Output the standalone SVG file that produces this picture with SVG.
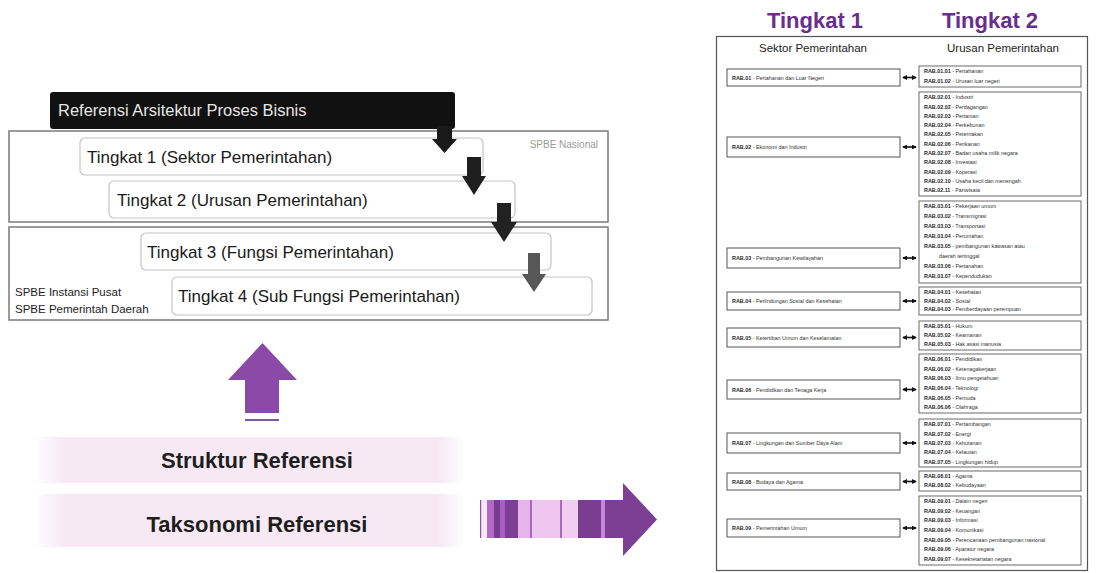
<svg xmlns="http://www.w3.org/2000/svg" width="1097" height="573" viewBox="0 0 1097 573">
  <defs>
    <style>
      text { font-family: "Liberation Sans", Arial, sans-serif; }
      .outer { fill: #ffffff; stroke: #7a7a7a; stroke-width: 1.5; }
      .lvl { fill: #ffffff; stroke: #c4c4c4; stroke-width: 1.2; }
      .lvl-t { font-size: 17px; fill: #1a1a1a; }
      .spbe { font-size: 11.5px; fill: #222; }
      .band-t { font-size: 22px; font-weight: bold; fill: #1e1e1e; text-anchor: middle; }
      .hdr { font-size: 22px; font-weight: bold; fill: #6a2c8e; text-anchor: middle; }
      .sub { font-size: 11.5px; fill: #222; text-anchor: middle; }
      .sbox { fill: #ffffff; stroke: #555; stroke-width: 1; }
      .ubox { fill: #ffffff; stroke: #6a6a6a; stroke-width: 1; }
      .it { font-size: 5.4px; fill: #333; }
      .it tspan.c { font-weight: bold; fill: #2a2a2a; }
      .link { stroke: #111; stroke-width: 1.6; marker-start: url(#dh); marker-end: url(#dh); }
    </style>
    <marker id="dh" viewBox="0 0 6 6" refX="5" refY="3" markerWidth="3" markerHeight="3" orient="auto-start-reverse">
      <path d="M0,0 L6,3 L0,6 z" fill="#111"/>
    </marker>
    <linearGradient id="bandFill" x1="0" y1="0" x2="1" y2="0">
      <stop offset="0" stop-color="#f6e9f4" stop-opacity="0.2"/>
      <stop offset="0.06" stop-color="#f6e9f4"/>
      <stop offset="0.94" stop-color="#f6e9f4"/>
      <stop offset="1" stop-color="#f6e9f4" stop-opacity="0.2"/>
    </linearGradient>
  </defs>

  <rect width="1097" height="573" fill="#ffffff"/>

  <!-- Level stack -->
  <g id="spbe-nasional">
    <rect class="outer" x="9" y="131" width="599" height="91"/>
    <text x="598" y="148" font-size="10" fill="#9a9a9a" text-anchor="end">SPBE Nasional</text>
  </g>
  <g id="spbe-daerah">
    <rect class="outer" x="9" y="227" width="599" height="93"/>
    <text class="spbe" x="15" y="296">SPBE Instansi Pusat</text>
    <text class="spbe" x="15" y="313">SPBE Pemerintah Daerah</text>
  </g>
  <g id="referensi">
    <rect x="50" y="92" width="405" height="37" rx="3" fill="#111"/>
    <text x="58" y="116" font-size="16.5" fill="#e6e6e6">Referensi Arsitektur Proses Bisnis</text>
  </g>
  <g id="tingkat-1">
    <rect class="lvl" x="80" y="138" width="403" height="37" rx="5"/>
    <text class="lvl-t" x="87" y="163">Tingkat 1 (Sektor Pemerintahan)</text>
  </g>
  <g id="tingkat-2">
    <rect class="lvl" x="109" y="181" width="406" height="37" rx="5"/>
    <text class="lvl-t" x="117" y="206">Tingkat 2 (Urusan Pemerintahan)</text>
  </g>
  <g id="tingkat-3">
    <rect class="lvl" x="141" y="233" width="410" height="37" rx="5"/>
    <text class="lvl-t" x="147" y="258">Tingkat 3 (Fungsi Pemerintahan)</text>
  </g>
  <g id="tingkat-4">
    <rect class="lvl" x="172" y="277" width="420" height="38" rx="5"/>
    <text class="lvl-t" x="178" y="302">Tingkat 4 (Sub Fungsi Pemerintahan)</text>
  </g>

  <!-- Down arrows between levels -->
  <g id="level-arrows">
    <polygon points="437,126 452,126 452,139 457,139 444.5,153 432,139 437,139" fill="#1a1a1a"/>
    <polygon points="467,157 481,157 481,176 486,176 474,195 462,176 467,176" fill="#1f1f1f"/>
    <polygon points="497,203 511,203 511,222 517,222 504,242 491,222 497,222" fill="#222"/>
    <polygon points="528,253 540,253 540,274 546,274 534,292 522,274 528,274" fill="#575757"/>
  </g>

  <!-- Up arrow -->
  <g id="arrow-up">
    <polygon points="262.5,343 297,380 279,380 279,413 245,413 245,380 228,380" fill="#8b4aa8"/>
    <line x1="245" y1="420" x2="279" y2="420" stroke="#7b5aa4" stroke-width="2"/>
  </g>

  <!-- Reference bands -->
  <g id="struktur-referensi">
    <rect x="38" y="437" width="424" height="46" fill="url(#bandFill)"/>
    <text class="band-t" x="257" y="468">Struktur Referensi</text>
  </g>
  <g id="taksonomi-referensi">
    <rect x="38" y="494" width="424" height="53" fill="url(#bandFill)"/>
    <text class="band-t" x="257" y="532">Taksonomi Referensi</text>
  </g>

  <!-- Striped arrow to the right -->
  <g id="arrow-right">
    <rect x="480" y="500" width="1.5" height="38" fill="#8a50b0"/>
    <rect x="481.5" y="500" width="5.5" height="38" fill="#f7e8f6"/>
    <rect x="487" y="500" width="7" height="38" fill="#b06ac6"/>
    <rect x="494" y="500" width="6" height="38" fill="#7a3a92"/>
    <rect x="500" y="500" width="5" height="38" fill="#a860c0"/>
    <rect x="505" y="500" width="13" height="38" fill="#7d3f96"/>
    <rect x="518" y="500" width="12" height="38" fill="#e7b3e8"/>
    <rect x="530" y="500" width="2" height="38" fill="#a766c6"/>
    <rect x="532" y="500" width="28" height="38" fill="#efc7ee"/>
    <rect x="560" y="500" width="2" height="38" fill="#a766c6"/>
    <rect x="562" y="500" width="16" height="38" fill="#f1cdef"/>
    <rect x="578" y="500" width="23" height="38" fill="#7a3d90"/>
    <rect x="601" y="500" width="4" height="38" fill="#c48ad8"/>
    <rect x="605" y="500" width="19" height="38" fill="#7c3f94"/>
    <polygon points="623,483 657,519.5 623,556" fill="#7c3f94"/>
  </g>

  <!-- Right panel: sector to affairs mapping -->
  <g id="panel">
    <text class="hdr" x="815" y="28">Tingkat 1</text>
    <text class="hdr" x="990" y="28">Tingkat 2</text>
    <rect x="716.5" y="36.5" width="371" height="534" fill="none" stroke="#555" stroke-width="1.2"/>
    <text class="sub" x="813" y="52">Sektor Pemerintahan</text>
    <text class="sub" x="1003" y="52">Urusan Pemerintahan</text>
  </g>

  <g id="sektor">
    <rect class="sbox" x="727" y="69" width="173" height="17"/>
    <text class="it" x="732" y="79.5"><tspan class="c">RAB.01</tspan> - Pertahanan dan Luar Negeri</text>
    <rect class="sbox" x="727" y="137" width="173" height="20"/>
    <text class="it" x="732" y="149"><tspan class="c">RAB.02</tspan> - Ekonomi dan Industri</text>
    <rect class="sbox" x="727" y="248" width="173" height="20"/>
    <text class="it" x="732" y="260"><tspan class="c">RAB.03</tspan> - Pembangunan Kewilayahan</text>
    <rect class="sbox" x="727" y="292" width="173" height="18"/>
    <text class="it" x="732" y="303"><tspan class="c">RAB.04</tspan> - Perlindungan Sosial dan Kesehatan</text>
    <rect class="sbox" x="727" y="328" width="173" height="19"/>
    <text class="it" x="732" y="339.5"><tspan class="c">RAB.05</tspan> - Ketertiban Umum dan Keselamatan</text>
    <rect class="sbox" x="727" y="380" width="173" height="19"/>
    <text class="it" x="732" y="391.5"><tspan class="c">RAB.06</tspan> - Pendidikan dan Tenaga Kerja</text>
    <rect class="sbox" x="727" y="433" width="173" height="20"/>
    <text class="it" x="732" y="445"><tspan class="c">RAB.07</tspan> - Lingkungan dan Sumber Daya Alam</text>
    <rect class="sbox" x="727" y="473" width="173" height="17"/>
    <text class="it" x="732" y="483.5"><tspan class="c">RAB.08</tspan> - Budaya dan Agama</text>
    <rect class="sbox" x="727" y="519" width="173" height="18"/>
    <text class="it" x="732" y="530"><tspan class="c">RAB.09</tspan> - Pemerintahan Umum</text>
  </g>

  <g id="links">
    <line class="link" x1="903" y1="77.5" x2="916" y2="77.5"/>
    <line class="link" x1="903" y1="147" x2="916" y2="147"/>
    <line class="link" x1="903" y1="258" x2="916" y2="258"/>
    <line class="link" x1="903" y1="301" x2="916" y2="301"/>
    <line class="link" x1="903" y1="337.5" x2="916" y2="337.5"/>
    <line class="link" x1="903" y1="389.5" x2="916" y2="389.5"/>
    <line class="link" x1="903" y1="443" x2="916" y2="443"/>
    <line class="link" x1="903" y1="481.5" x2="916" y2="481.5"/>
    <line class="link" x1="903" y1="528" x2="916" y2="528"/>
  </g>

  <g id="urusan-01">
    <rect class="ubox" x="919" y="66" width="162" height="21"/>
    <text class="it" x="924" y="73.2"><tspan class="c">RAB.01.01</tspan> - Pertahanan</text>
    <text class="it" x="924" y="82.7"><tspan class="c">RAB.01.02</tspan> - Urusan luar negeri</text>
  </g>
  <g id="urusan-02">
    <rect class="ubox" x="919" y="92" width="162" height="104"/>
    <text class="it" x="924" y="99.2"><tspan class="c">RAB.02.01</tspan> - Industri</text>
    <text class="it" x="924" y="108.5"><tspan class="c">RAB.02.02</tspan> - Perdagangan</text>
    <text class="it" x="924" y="117.8"><tspan class="c">RAB.02.03</tspan> - Pertanian</text>
    <text class="it" x="924" y="127.1"><tspan class="c">RAB.02.04</tspan> - Perkebunan</text>
    <text class="it" x="924" y="136.4"><tspan class="c">RAB.02.05</tspan> - Peternakan</text>
    <text class="it" x="924" y="145.7"><tspan class="c">RAB.02.06</tspan> - Perikanan</text>
    <text class="it" x="924" y="155.0"><tspan class="c">RAB.02.07</tspan> - Badan usaha milik negara</text>
    <text class="it" x="924" y="164.3"><tspan class="c">RAB.02.08</tspan> - Investasi</text>
    <text class="it" x="924" y="173.6"><tspan class="c">RAB.02.09</tspan> - Koperasi</text>
    <text class="it" x="924" y="182.9"><tspan class="c">RAB.02.10</tspan> - Usaha kecil dan menengah</text>
    <text class="it" x="924" y="192.2"><tspan class="c">RAB.02.11</tspan> - Pariwisata</text>
  </g>
  <g id="urusan-03">
    <rect class="ubox" x="919" y="201" width="162" height="82"/>
    <text class="it" x="924" y="208.2"><tspan class="c">RAB.03.01</tspan> - Pekerjaan umum</text>
    <text class="it" x="924" y="218.2"><tspan class="c">RAB.03.02</tspan> - Transmigrasi</text>
    <text class="it" x="924" y="228.2"><tspan class="c">RAB.03.03</tspan> - Transportasi</text>
    <text class="it" x="924" y="238.2"><tspan class="c">RAB.03.04</tspan> - Perumahan</text>
    <text class="it" x="924" y="248.2"><tspan class="c">RAB.03.05</tspan> - pembangunan kawasan atau</text>
    <text class="it" x="939" y="258.2">daerah tertinggal</text>
    <text class="it" x="924" y="268.2"><tspan class="c">RAB.03.06</tspan> - Pertanahan</text>
    <text class="it" x="924" y="278.2"><tspan class="c">RAB.03.07</tspan> - Kependudukan</text>
  </g>
  <g id="urusan-04">
    <rect class="ubox" x="919" y="287" width="162" height="28"/>
    <text class="it" x="924" y="294.2"><tspan class="c">RAB.04.01</tspan> - Kesehatan</text>
    <text class="it" x="924" y="302.8"><tspan class="c">RAB.04.02</tspan> - Sosial</text>
    <text class="it" x="924" y="311.4"><tspan class="c">RAB.04.03</tspan> - Pemberdayaan perempuan</text>
  </g>
  <g id="urusan-05">
    <rect class="ubox" x="919" y="321" width="162" height="29"/>
    <text class="it" x="924" y="328.2"><tspan class="c">RAB.05.01</tspan> - Hukum</text>
    <text class="it" x="924" y="337.2"><tspan class="c">RAB.05.02</tspan> - Keamanan</text>
    <text class="it" x="924" y="346.2"><tspan class="c">RAB.05.03</tspan> - Hak asasi manusia</text>
  </g>
  <g id="urusan-06">
    <rect class="ubox" x="919" y="354" width="162" height="59"/>
    <text class="it" x="924" y="361.2"><tspan class="c">RAB.06.01</tspan> - Pendidikan</text>
    <text class="it" x="924" y="370.8"><tspan class="c">RAB.06.02</tspan> - Ketenagakerjaan</text>
    <text class="it" x="924" y="380.4"><tspan class="c">RAB.06.03</tspan> - Ilmu pengetahuan</text>
    <text class="it" x="924" y="390.0"><tspan class="c">RAB.06.04</tspan> - Teknologi</text>
    <text class="it" x="924" y="399.6"><tspan class="c">RAB.06.05</tspan> - Pemuda</text>
    <text class="it" x="924" y="409.2"><tspan class="c">RAB.06.06</tspan> - Olahraga</text>
  </g>
  <g id="urusan-07">
    <rect class="ubox" x="919" y="419" width="162" height="48"/>
    <text class="it" x="924" y="426.2"><tspan class="c">RAB.07.01</tspan> - Pertambangan</text>
    <text class="it" x="924" y="435.6"><tspan class="c">RAB.07.02</tspan> - Energi</text>
    <text class="it" x="924" y="445.0"><tspan class="c">RAB.07.03</tspan> - Kehutanan</text>
    <text class="it" x="924" y="454.4"><tspan class="c">RAB.07.04</tspan> - Kelautan</text>
    <text class="it" x="924" y="463.8"><tspan class="c">RAB.07.05</tspan> - Lingkungan hidup</text>
  </g>
  <g id="urusan-08">
    <rect class="ubox" x="919" y="471" width="162" height="20"/>
    <text class="it" x="924" y="478.2"><tspan class="c">RAB.08.01</tspan> - Agama</text>
    <text class="it" x="924" y="487.2"><tspan class="c">RAB.08.02</tspan> - Kebudayaan</text>
  </g>
  <g id="urusan-09">
    <rect class="ubox" x="919" y="496" width="162" height="69"/>
    <text class="it" x="924" y="503.2"><tspan class="c">RAB.09.01</tspan> - Dalam negeri</text>
    <text class="it" x="924" y="512.8"><tspan class="c">RAB.09.02</tspan> - Keuangan</text>
    <text class="it" x="924" y="522.4"><tspan class="c">RAB.09.03</tspan> - Informasi</text>
    <text class="it" x="924" y="532.0"><tspan class="c">RAB.09.04</tspan> - Komunikasi</text>
    <text class="it" x="924" y="541.6"><tspan class="c">RAB.09.05</tspan> - Perencanaan pembangunan nasional</text>
    <text class="it" x="924" y="551.2"><tspan class="c">RAB.09.06</tspan> - Aparatur negara</text>
    <text class="it" x="924" y="560.8"><tspan class="c">RAB.09.07</tspan> - Kesekretariatan negara</text>
  </g>
</svg>
